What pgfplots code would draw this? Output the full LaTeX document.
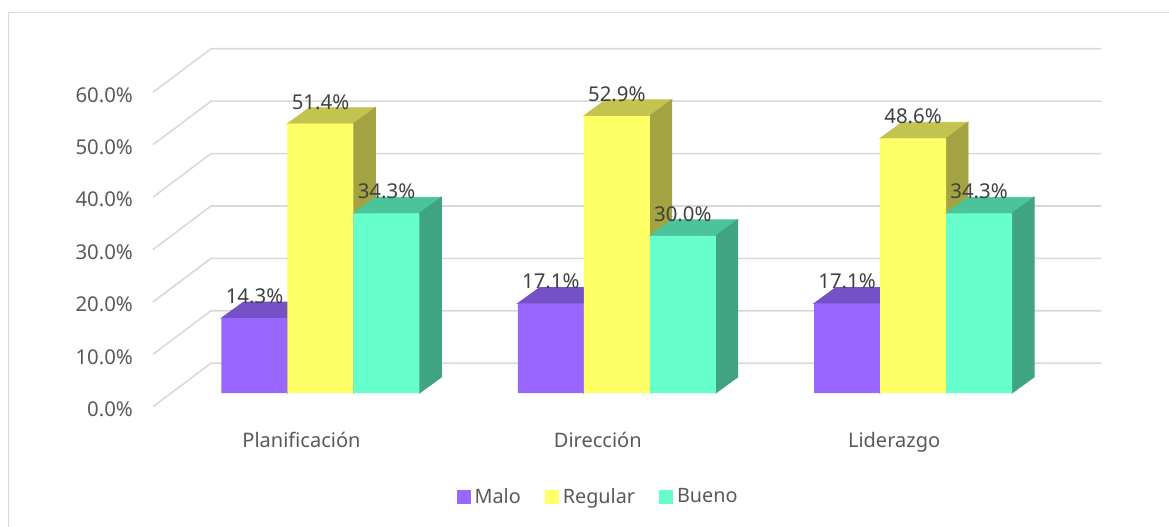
\documentclass[border=0pt]{standalone}
\usepackage{fontspec}
\setmainfont{Noto Sans}
\usepackage{pgfplots}
\pgfplotsset{compat=1.18}
\definecolor{malo}{HTML}{9966FF}
\definecolor{malotop}{HTML}{7452C6}
\definecolor{maloside}{HTML}{6A48B5}
\definecolor{regular}{HTML}{FFFF66}
\definecolor{regulartop}{HTML}{C3C34F}
\definecolor{regularside}{HTML}{A3A342}
\definecolor{bueno}{HTML}{66FFCC}
\definecolor{buenotop}{HTML}{4CC49A}
\definecolor{buenoside}{HTML}{40A382}
\definecolor{gridc}{HTML}{D9D9D9}
\definecolor{txt}{HTML}{595959}
\definecolor{lbl}{HTML}{404040}
\pgfdeclareplotmark{nomark}{}
\pgfplotsset{
  face3d/.style n args={3}{forget plot, only marks, mark=nomark, scatter,
    visualization depends on={rawy \as \barval},
    scatter/@pre marker code/.code={%
      \pgfmathsetmacro\barh{\barval*2.62}%
      \fill[#2] (#1-16.5pt,0pt) -- ++(33pt,0pt) -- ++(11pt,8pt) -- ++(-33pt,0pt) -- cycle;
      \fill[#3] (#1+16.5pt,0pt) -- ++(0pt,-\barh pt) -- ++(11pt,8pt) -- ++(0pt,\barh pt) -- cycle;
    },
    scatter/@post marker code/.code={}},
  front/.style 2 args={ybar, bar width=33pt, bar shift=#1, fill=#2, draw=none,
    nodes near coords={\pgfmathprintnumber{\pgfplotspointmeta}\%},
    every node near coord/.append style={anchor=base, xshift=#1, yshift=7.25pt, text=lbl,
      font=\fontsize{10.2}{12}\selectfont},
    legend image code/.code={\fill[##1] (0pt,-3.5pt) rectangle (7pt,3.5pt);}},
  gridl/.style={forget plot, no markers, gridc, line width=0.8pt},
}
\begin{document}
\begin{tikzpicture}
\useasboundingbox (0,0) rectangle (584.5pt,263pt);
\draw[gridc, line width=0.5pt] (4.25pt,-5pt) -- (4.25pt,256.5pt) -- (590pt,256.5pt);
\begin{axis}[
  at={(0pt,0pt)}, anchor=south west,
  scale only axis, width=584.5pt, height=263pt,
  xmin=-1.08167, xmax=2.86366, ymin=-25.382, ymax=75.0,
  clip=false, clip mode=individual,
  axis line style={draw=none},
  major tick length=0pt, tick style={draw=none},
  xtick={0,1,2}, xticklabels={Planificación,Dirección,Liderazgo},
  xticklabel style={anchor=base, yshift=39.5pt, xshift=-9.5pt, text=txt,
    font=\fontsize{10}{12}\selectfont},
  ytick={0,10,...,60},
  yticklabels={0.0\%,10.0\%,20.0\%,30.0\%,40.0\%,50.0\%,60.0\%},
  yticklabel style={anchor=base east, xshift=70pt, yshift=-11.75pt, text=txt,
    font=\fontsize{10.2}{12}\selectfont},
  /pgf/number format/fixed, /pgf/number format/fixed zerofill,
  /pgf/number format/precision=1, /pgf/number format/assume math mode=true,
  legend columns=3,
  legend cell align=left,
  legend style={draw=none, fill=none, at={(0.5125,0.0551)}, anchor=center,
    font=\fontsize{9.9}{12}\selectfont, text=txt, inner sep=0pt,
    /tikz/every even column/.append style={column sep=10pt}},
]
% gridlines (side wall diagonal + back wall)
\addplot[gridl] coordinates {(-0.5653,-2.62) (-0.3696,5.69) (2.6358,5.69)};
\addplot[gridl] coordinates {(-0.5653,7.38) (-0.3696,15.69) (2.6358,15.69)};
\addplot[gridl] coordinates {(-0.5653,17.38) (-0.3696,25.69) (2.6358,25.69)};
\addplot[gridl] coordinates {(-0.5653,27.38) (-0.3696,35.69) (2.6358,35.69)};
\addplot[gridl] coordinates {(-0.5653,37.38) (-0.3696,45.69) (2.6358,45.69)};
\addplot[gridl] coordinates {(-0.5653,47.38) (-0.3696,55.69) (2.6358,55.69)};
\addplot[gridl] coordinates {(-0.5653,57.38) (-0.3696,65.69) (2.6358,65.69)};
% Malo
\addplot[face3d={-33pt}{malotop}{maloside}] coordinates {(0,14.3) (1,17.1) (2,17.1)};
\addplot[front={-33pt}{malo}] coordinates {(0,14.3) (1,17.1) (2,17.1)};
\addlegendentry{Malo}
% Regular
\addplot[face3d={0pt}{regulartop}{regularside}] coordinates {(0,51.4) (1,52.9) (2,48.6)};
\addplot[front={0pt}{regular}] coordinates {(0,51.4) (1,52.9) (2,48.6)};
\addlegendentry{Regular}
% Bueno
\addplot[face3d={33pt}{buenotop}{buenoside}] coordinates {(0,34.3) (1,30.0) (2,34.3)};
\addplot[front={33pt}{bueno}] coordinates {(0,34.3) (1,30.0) (2,34.3)};
\addlegendentry{Bueno}
\end{axis}
\end{tikzpicture}
\end{document}
